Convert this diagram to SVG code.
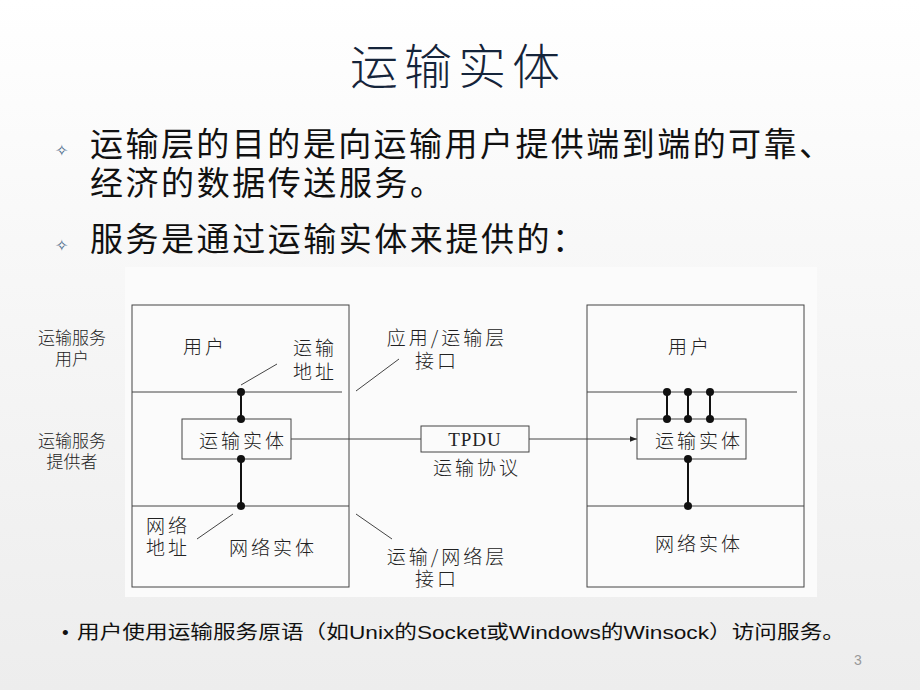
<svg xmlns="http://www.w3.org/2000/svg" width="920" height="690" viewBox="0 0 920 690">
  <defs>
    <linearGradient id="bg" x1="0" y1="0" x2="0" y2="1">
      <stop offset="0" stop-color="#ffffff"/>
      <stop offset="0.35" stop-color="#f8f8f8"/>
      <stop offset="1" stop-color="#ededed"/>
    </linearGradient>
    <marker id="arr" viewBox="0 0 10 10" refX="10" refY="5" markerWidth="7" markerHeight="7" orient="auto" markerUnits="userSpaceOnUse">
      <path d="M0,1 L10,5 L0,9 z" fill="#222"/>
    </marker>
    <style>
      .title { font-family: "Noto Sans CJK SC", sans-serif; font-size: 48px; font-weight: 300; fill: #15243a; }
      .body { font-family: "Noto Sans CJK SC", sans-serif; font-size: 33px; fill: #111; }
      .bul { font-family: "DejaVu Sans", sans-serif; font-size: 16px; fill: #4a6a8a; }
      .lbl { font-family: "Noto Sans CJK SC", serif; font-size: 19px; font-weight: 300; fill: #222; letter-spacing: 3px; }
      .side { font-family: "Noto Sans CJK SC", sans-serif; font-size: 17px; font-weight: 300; fill: #222; }
      .ser { font-family: "Liberation Serif", serif; font-size: 19px; fill: #222; }
      .foot { font-family: "Liberation Sans", "Noto Sans CJK SC", sans-serif; font-size: 19px; fill: #111; }
      .box { fill: none; stroke: #444; stroke-width: 1; }
      .thin { stroke: #444; stroke-width: 1; fill: none; }
      .thick { stroke: #111; stroke-width: 2; }
      .dot { fill: #111; }
    </style>
  </defs>

  <rect x="0" y="0" width="920" height="690" fill="url(#bg)"/>

  <g id="title">
    <text class="title" x="458" y="84" text-anchor="middle" letter-spacing="6">运输实体</text>
  </g>

  <g id="bullets">
    <text class="bul" x="55" y="156">✧</text>
    <text class="body" x="90" y="156" textLength="742" lengthAdjust="spacing">运输层的目的是向运输用户提供端到端的可靠、</text>
    <text class="body" x="90" y="195" textLength="353" lengthAdjust="spacing">经济的数据传送服务。</text>
    <text class="bul" x="55" y="251">✧</text>
    <text class="body" x="90" y="251" textLength="495" lengthAdjust="spacing">服务是通过运输实体来提供的：</text>
  </g>

  <rect x="125" y="267" width="692" height="330" fill="#fbfbfb"/>

  <g id="side-labels">
    <text class="side" x="72" y="344" text-anchor="middle">运输服务</text>
    <text class="side" x="72" y="365" text-anchor="middle">用户</text>
    <text class="side" x="72" y="447" text-anchor="middle">运输服务</text>
    <text class="side" x="72" y="468" text-anchor="middle">提供者</text>
  </g>

  <g id="left-stack">
    <rect class="box" x="132" y="305" width="217" height="282"/>
    <line class="thin" x1="132" y1="392" x2="342" y2="392"/>
    <line class="thin" x1="132" y1="506" x2="349" y2="506"/>
    <text class="lbl" x="205" y="354" text-anchor="middle">用户</text>
    <text class="lbl" x="315" y="355" text-anchor="middle">运输</text>
    <text class="lbl" x="315" y="379" text-anchor="middle">地址</text>
    <text class="lbl" x="168" y="533" text-anchor="middle">网络</text>
    <text class="lbl" x="168" y="555" text-anchor="middle">地址</text>
    <text class="lbl" x="273" y="555" text-anchor="middle">网络实体</text>
  </g>

  <g id="left-entity">
    <rect class="box" x="182" y="419" width="109" height="40"/>
    <text class="lbl" x="243" y="448" text-anchor="middle">运输实体</text>
  </g>

  <g id="right-stack">
    <rect class="box" x="587" y="305" width="217" height="282"/>
    <line class="thin" x1="587" y1="392" x2="797" y2="392"/>
    <line class="thin" x1="587" y1="506" x2="804" y2="506"/>
    <text class="lbl" x="690" y="354" text-anchor="middle">用户</text>
    <text class="lbl" x="699" y="551" text-anchor="middle">网络实体</text>
  </g>

  <g id="right-entity">
    <rect class="box" x="637" y="419" width="109" height="40"/>
    <text class="lbl" x="699" y="448" text-anchor="middle">运输实体</text>
  </g>

  <g id="tpdu">
    <rect class="box" x="421" y="426" width="108" height="26"/>
    <text class="ser" x="475" y="446" text-anchor="middle" letter-spacing="1">TPDU</text>
    <text class="lbl" x="477" y="475" text-anchor="middle">运输协议</text>
  </g>

  <g id="interface-labels">
    <text class="lbl" x="447" y="345" text-anchor="middle" letter-spacing="1">应用/运输层</text>
    <text class="lbl" x="437" y="368" text-anchor="middle">接口</text>
    <text class="lbl" x="447" y="564" text-anchor="middle" letter-spacing="1">运输/网络层</text>
    <text class="lbl" x="437" y="586" text-anchor="middle">接口</text>
  </g>

  <g id="connectors">
    <line class="thick" x1="241" y1="392" x2="241" y2="419"/>
    <line class="thick" x1="241" y1="459" x2="241" y2="506"/>
    <line class="thick" x1="667" y1="392" x2="667" y2="419"/>
    <line class="thick" x1="688" y1="392" x2="688" y2="419"/>
    <line class="thick" x1="710" y1="392" x2="710" y2="419"/>
    <line class="thick" x1="688" y1="459" x2="688" y2="506"/>
    <line class="thin" x1="291" y1="439" x2="421" y2="439"/>
    <line class="thin" x1="529" y1="439" x2="637" y2="439" marker-end="url(#arr)"/>
    <line class="thin" x1="277" y1="364" x2="241" y2="385"/>
    <line class="thin" x1="399" y1="359" x2="356" y2="391"/>
    <line class="thin" x1="356" y1="514" x2="392" y2="539"/>
    <line class="thin" x1="197" y1="539" x2="233" y2="514"/>
    <circle class="dot" cx="241" cy="392" r="4"/>
    <circle class="dot" cx="241" cy="419" r="4"/>
    <circle class="dot" cx="241" cy="459" r="4"/>
    <circle class="dot" cx="241" cy="506" r="4"/>
    <circle class="dot" cx="667" cy="392" r="4"/>
    <circle class="dot" cx="688" cy="392" r="4"/>
    <circle class="dot" cx="710" cy="392" r="4"/>
    <circle class="dot" cx="667" cy="419" r="4"/>
    <circle class="dot" cx="688" cy="419" r="4"/>
    <circle class="dot" cx="710" cy="419" r="4"/>
    <circle class="dot" cx="688" cy="459" r="4"/>
    <circle class="dot" cx="688" cy="506" r="4"/>
  </g>

  <g id="footer">
    <text class="foot" x="62" y="639">•</text>
    <text class="foot" x="77" y="639" textLength="768" lengthAdjust="spacingAndGlyphs">用户使用运输服务原语（如Unix的Socket或Windows的Winsock）访问服务。</text>
    <text x="858" y="665" font-family="Liberation Sans, sans-serif" font-size="14" fill="#999" text-anchor="middle">3</text>
  </g>
</svg>
